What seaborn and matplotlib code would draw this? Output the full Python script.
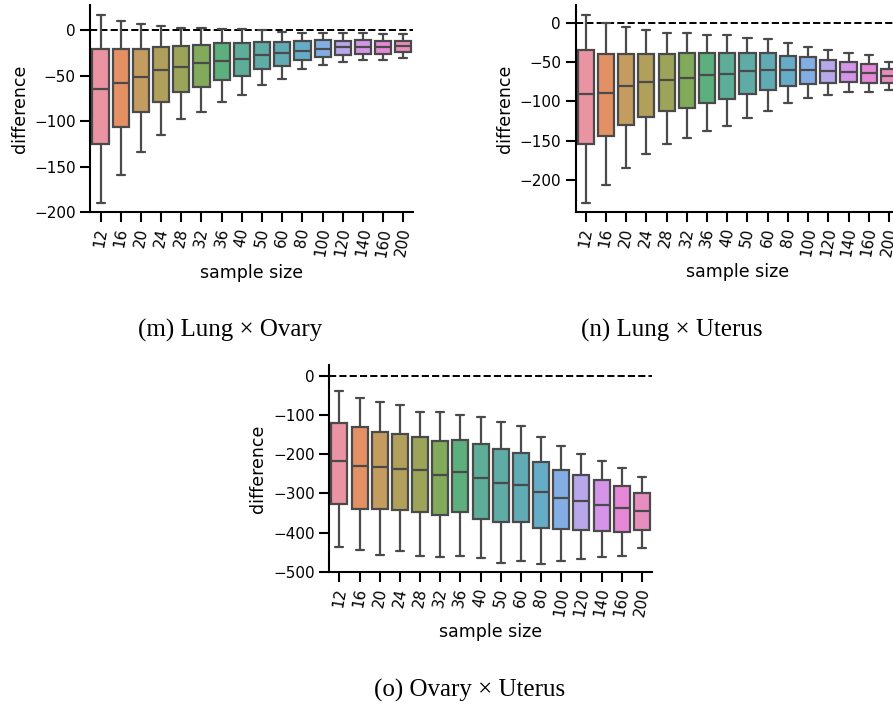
import matplotlib
matplotlib.use("Agg")
import matplotlib.pyplot as plt
import numpy as np
import pandas as pd
import seaborn as sns

# sample sizes on the x axis
sizes = ["12", "16", "20", "24", "28", "32", "36", "40",
         "50", "60", "80", "100", "120", "140", "160", "200"]

# (m) Lung x Ovary: whisker low, q1, median, q3, whisker high
m_lo = [-190, -159, -134, -115, -97, -90, -79, -71, -60, -53, -43, -38.5, -35, -33, -32.5, -30]
m_q1 = [-124.5, -106, -89.5, -79, -68, -62, -54.5, -50.5, -43, -38.8, -32.6, -29.7, -27, -26.4, -25.6, -24.2]
m_med = [-65, -58, -51, -44, -40, -36.3, -33.3, -31, -27, -25.3, -22.3, -20, -18.7, -18, -18.3, -17.2]
m_q3 = [-20.5, -20.5, -20.5, -18, -16.8, -15.8, -14.3, -14.3, -12.8, -12.8, -11.7, -10.6, -11.4, -10.6, -11.4, -11.4]
m_hi = [16.5, 10, 6.5, 4.8, 2.6, 2.6, 1.5, 1.5, 0, -1.5, -2.6, -2.6, -3.3, -2.6, -3.7, -4]

# (n) Lung x Uterus
n_lo = [-229, -206, -184, -167, -154, -147, -138, -131, -121, -112, -102, -96, -91.5, -88, -87.5, -85]
n_q1 = [-154.7, -144.5, -129.5, -120, -112.5, -108.5, -102, -97.5, -90.7, -85, -80, -78, -76, -75.8, -76.2, -76.7]
n_med = [-90.5, -89, -80.5, -75.5, -73, -70.3, -67, -65.5, -61.5, -60.2, -59.7, -59.7, -61, -62.3, -63.5, -67.7]
n_q3 = [-34.7, -39.5, -39.5, -39.5, -40.3, -38.6, -39, -38.1, -38.1, -39, -42, -44, -47, -49.6, -52, -58.9]
n_hi = [9.7, 0, -6, -9.3, -13.6, -13.2, -15.7, -15.5, -19.3, -21, -25.8, -30.7, -35, -38.1, -41.1, -49.6]

# (o) Ovary x Uterus
o_lo = [-437, -443, -456, -446, -458, -463, -458, -465, -477, -472, -480, -471, -467, -462, -458, -440]
o_q1 = [-327, -340, -340, -343, -348, -355, -348, -364, -372, -372, -388, -391, -392, -396, -398, -393]
o_med = [-218, -229, -233, -237, -241, -252, -246, -260, -273, -278, -297, -312, -320, -330, -337, -344]
o_q3 = [-120, -131, -143, -148, -156, -166, -165, -174, -186, -196, -219, -241, -253, -267, -281, -298]
o_hi = [-39, -57, -68, -75, -93, -93, -100, -105, -119, -129, -157, -179, -200, -218, -236, -259]

captions = ["(m) Lung \u00d7 Ovary", "(n) Lung \u00d7 Uterus", "(o) Ovary \u00d7 Uterus"]


def to_long(lo, q1, med, q3, hi):
    """Five numbers per sample size, stacked as raw values for seaborn."""
    rows = []
    for i, s in enumerate(sizes):
        for v in (lo[i], q1[i], med[i], q3[i], hi[i]):
            rows.append({"sample size": s, "difference": v})
    return pd.DataFrame(rows)


sns.set_theme(style="ticks", context="notebook")
plt.rcParams["font.family"] = ["DejaVu Sans"]
plt.rcParams.update({"text.color": "black", "axes.labelcolor": "black",
                     "xtick.color": "black", "ytick.color": "black",
                     "axes.edgecolor": "black"})

fig = plt.figure(figsize=(8.93, 7.06), dpi=100)

panels = [
    (to_long(m_lo, m_q1, m_med, m_q3, m_hi), [0.1013, 0.6993, 0.3617, 0.2936], (-200, 27.8), [0, -50, -100, -150, -200]),
    (to_long(n_lo, n_q1, n_med, n_q3, n_hi), [0.6446, 0.6997, 0.3622, 0.2932], (-240.5, 22.5), [0, -50, -100, -150, -200]),
    (to_long(o_lo, o_q1, o_med, o_q3, o_hi), [0.3688, 0.1898, 0.3613, 0.2932], (-500, 27), [0, -100, -200, -300, -400, -500]),
]
# husl colours, desaturated like the old boxplot default and a touch lighter
palette = []
for c in sns.color_palette("husl", len(sizes)):
    c = np.array(sns.desaturate(c, 0.75))
    palette.append(tuple(0.86 * c + 0.14))

for df, pos, ylim, yticks in panels:
    ax = fig.add_axes(pos)
    sns.boxplot(data=df, x="sample size", y="difference", hue="sample size",
                order=sizes, hue_order=sizes, palette=palette, saturation=1,
                legend=False, whis=(0, 100), showfliers=False, width=0.8,
                linewidth=1.6, linecolor="#4a4a4a", ax=ax)
    ax.axhline(0, color="black", linestyle="--", linewidth=1.4, zorder=0)
    ax.set_xlim(-0.5, len(sizes) - 0.5)
    ax.set_ylim(*ylim)
    ax.set_yticks(yticks)
    ax.tick_params(axis="both", labelsize=11, length=7, width=1.5)
    ax.tick_params(axis="x", labelrotation=80)
    ax.set_xlabel("sample size", fontsize=12.5)
    ax.set_ylabel("difference", fontsize=12.5)
    for sp in ax.spines.values():
        sp.set_linewidth(1.5)
    sns.despine(ax=ax)

fig.text(230 / 893, 1 - 330 / 706, captions[0], ha="center", va="center",
         fontsize=18, family="Liberation Serif")
fig.text(672 / 893, 1 - 330 / 706, captions[1], ha="center", va="center",
         fontsize=18, family="Liberation Serif")
fig.text(470 / 893, 1 - 690 / 706, captions[2], ha="center", va="center",
         fontsize=18, family="Liberation Serif")

fig.savefig("out.png", dpi=100)
